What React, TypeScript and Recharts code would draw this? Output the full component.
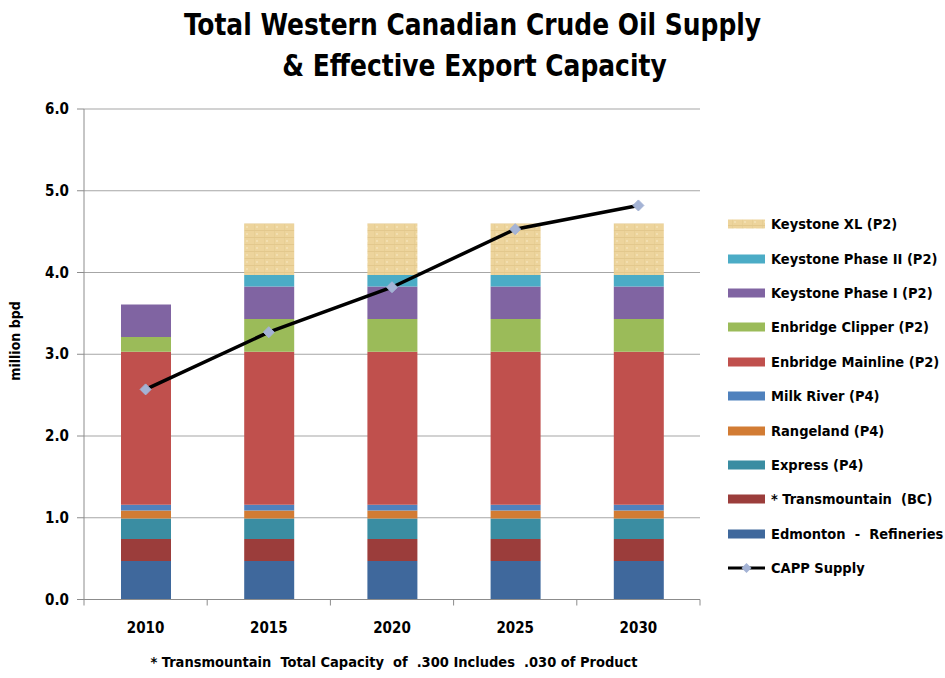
import React from 'react';
import { ComposedChart, Bar, Line, XAxis, YAxis, CartesianGrid } from 'recharts';

const years = ['2010', '2015', '2020', '2025', '2030'];
const edmonton = [0.47, 0.47, 0.47, 0.47, 0.47];
const transmountain = [0.27, 0.27, 0.27, 0.27, 0.27];
const express = [0.25, 0.25, 0.25, 0.25, 0.25];
const rangeland = [0.1, 0.1, 0.1, 0.1, 0.1];
const milkRiver = [0.07, 0.07, 0.07, 0.07, 0.07];
const enbridgeMainline = [1.87, 1.87, 1.87, 1.87, 1.87];
const enbridgeClipper = [0.18, 0.4, 0.4, 0.4, 0.4];
const keystonePhase1 = [0.4, 0.4, 0.4, 0.4, 0.4];
const keystonePhase2 = [0, 0.14, 0.14, 0.14, 0.14];
const keystoneXL = [0, 0.63, 0.63, 0.63, 0.63];
const cappSupply = [2.57, 3.27, 3.82, 4.53, 4.82];
const yTicks = [0, 1, 2, 3, 4, 5, 6];

const series = [
  { key: 'edm', name: 'Edmonton  -  Refineries', values: edmonton, color: '#3F689C' },
  { key: 'tm', name: '* Transmountain  (BC)', values: transmountain, color: '#9B3D3B' },
  { key: 'ex', name: 'Express (P4)', values: express, color: '#3A8DA2' },
  { key: 'rg', name: 'Rangeland (P4)', values: rangeland, color: '#D27C34' },
  { key: 'mr', name: 'Milk River (P4)', values: milkRiver, color: '#4F81BD' },
  { key: 'em', name: 'Enbridge Mainline (P2)', values: enbridgeMainline, color: '#C0504D' },
  { key: 'ec', name: 'Enbridge Clipper (P2)', values: enbridgeClipper, color: '#9BBB59' },
  { key: 'k1', name: 'Keystone Phase I (P2)', values: keystonePhase1, color: '#8064A2' },
  { key: 'k2', name: 'Keystone Phase II (P2)', values: keystonePhase2, color: '#4BACC6' },
  { key: 'xl', name: 'Keystone XL (P2)', values: keystoneXL, color: 'url(#xlPattern)' },
];

const data = years.map((y, i) => {
  const row: any = { year: y, capp: cappSupply[i] };
  series.forEach((s) => (row[s.key] = s.values[i]));
  return row;
});

const FONT = '"DejaVu Sans Condensed", "DejaVu Sans", "Open Sans", sans-serif';
const W = 945;
const H = 678;
const PLOT_LEFT = 84;
const PLOT_RIGHT = 700;
const BAND = (PLOT_RIGHT - PLOT_LEFT) / years.length;

const Diamond = (props: any) => {
  const { cx, cy } = props;
  if (cx == null || cy == null) return null;
  const r = 5.5;
  return (
    <polygon
      points={`${cx},${cy - r} ${cx + r},${cy} ${cx},${cy + r} ${cx - r},${cy}`}
      fill="#A4B3D5"
      stroke="#A4B3D5"
    />
  );
};

const XTick = (props: any) => {
  const { x, y, payload, index } = props;
  const axisY = y - 8;
  return (
    <g>
      <line x1={x - BAND / 2} x2={x - BAND / 2} y1={axisY} y2={axisY + 6} stroke="#8C8C8C" />
      {index === years.length - 1 && (
        <line x1={x + BAND / 2} x2={x + BAND / 2} y1={axisY} y2={axisY + 6} stroke="#8C8C8C" />
      )}
      <text x={x} y={y + 25} textAnchor="middle" fontFamily={FONT} fontWeight="bold" fontSize={15} fill="#000">
        {payload.value}
      </text>
    </g>
  );
};

const YTick = (props: any) => {
  const { x, y, payload } = props;
  return (
    <text x={x} y={y + 5} textAnchor="end" fontFamily={FONT} fontWeight="bold" fontSize={15} fill="#000">
      {Number(payload.value).toFixed(1)}
    </text>
  );
};

const Patterns = () => (
  <svg width={0} height={0} style={{ position: 'absolute' }}>
    <defs>
      <pattern id="xlPattern" patternUnits="userSpaceOnUse" width="10" height="7">
        <rect width="10" height="7" fill="#EDD49C" />
        <line x1="0" y1="6.5" x2="10" y2="6.5" stroke="#DCC083" strokeWidth="1" opacity="0.6" />
        <line x1="4.5" y1="0" x2="4.5" y2="7" stroke="#E2C98E" strokeWidth="1" opacity="0.5" />
        <rect x="6" y="2" width="2" height="2" fill="#F4E2B6" opacity="0.8" />
      </pattern>
    </defs>
  </svg>
);

const legendItems = [...series].reverse();

const Legend = () => (
  <div style={{ position: 'absolute', left: 728, top: 207, fontFamily: FONT, fontWeight: 'bold', fontSize: 14.5 }}>
    {legendItems.map((s) => (
      <div key={s.key} style={{ height: 34.4, display: 'flex', alignItems: 'center', whiteSpace: 'pre' }}>
        <svg width={38} height={10} style={{ marginRight: 5 }}>
          <rect width={37} height={9} y={0.5} fill={s.color} />
        </svg>
        <span>{s.name}</span>
      </div>
    ))}
    <div style={{ height: 34.4, display: 'flex', alignItems: 'center' }}>
      <svg width={38} height={12} style={{ marginRight: 5 }}>
        <line x1={0} x2={37} y1={6} y2={6} stroke="#000" strokeWidth={3} />
        <polygon points="18.5,1 23.5,6 18.5,11 13.5,6" fill="#A4B3D5" />
      </svg>
      <span>CAPP Supply</span>
    </div>
  </div>
);

const titleLine: React.CSSProperties = {
  transform: 'scaleX(0.895)',
  transformOrigin: 'center',
  whiteSpace: 'nowrap',
};

export default function App() {
  return (
    <div style={{ position: 'absolute', left: 0, top: 0, width: W, height: H, background: '#fff' }}>
      <Patterns />
      <div
        style={{
          position: 'absolute',
          left: 0,
          width: W,
          top: 4,
          textAlign: 'center',
          fontFamily: FONT,
          fontWeight: 'bold',
          fontSize: 31,
          lineHeight: '41px',
          color: '#000',
        }}
      >
        <div style={titleLine}>Total Western Canadian Crude Oil Supply</div>
        <div style={{ ...titleLine, marginLeft: 4 }}>&amp; Effective Export Capacity</div>
      </div>
      <div
        style={{
          position: 'absolute',
          left: 15,
          top: 341,
          transform: 'translate(-50%, -50%) rotate(-90deg)',
          fontFamily: FONT,
          fontWeight: 'bold',
          fontSize: 14,
          whiteSpace: 'nowrap',
        }}
      >
        million bpd
      </div>
      <ComposedChart
        width={W}
        height={H}
        data={data}
        margin={{ top: 109, right: W - PLOT_RIGHT, left: 24, bottom: 48.5 }}
        style={{ position: 'absolute', left: 0, top: 0 }}
      >
        <CartesianGrid vertical={false} stroke="#A6A6A6" strokeWidth={1.2} />
        <XAxis
          dataKey="year"
          height={30}
          stroke="#8C8C8C"
          tickLine={false}
          tick={<XTick />}
          interval={0}
        />
        <YAxis
          width={60}
          domain={[0, 6]}
          ticks={yTicks}
          stroke="#8C8C8C"
          tickSize={7}
          tickMargin={8}
          tick={<YTick />}
          interval={0}
        />
        {series.map((s) => (
          <Bar
            key={s.key}
            dataKey={s.key}
            name={s.name}
            stackId="a"
            fill={s.color}
            barSize={50}
            isAnimationActive={false}
          />
        ))}
        <Line
          dataKey="capp"
          name="CAPP Supply"
          stroke="#000"
          strokeWidth={3.5}
          dot={<Diamond />}
          activeDot={false}
          isAnimationActive={false}
          type="linear"
        />
      </ComposedChart>
      <Legend />
      <div
        style={{
          position: 'absolute',
          left: 0,
          width: 788,
          top: 654,
          textAlign: 'center',
          fontFamily: FONT,
          fontWeight: 'bold',
          fontSize: 14.5,
          whiteSpace: 'pre',
        }}
      >
        * Transmountain  Total Capacity  of  .300 Includes  .030 of Product
      </div>
    </div>
  );
}
